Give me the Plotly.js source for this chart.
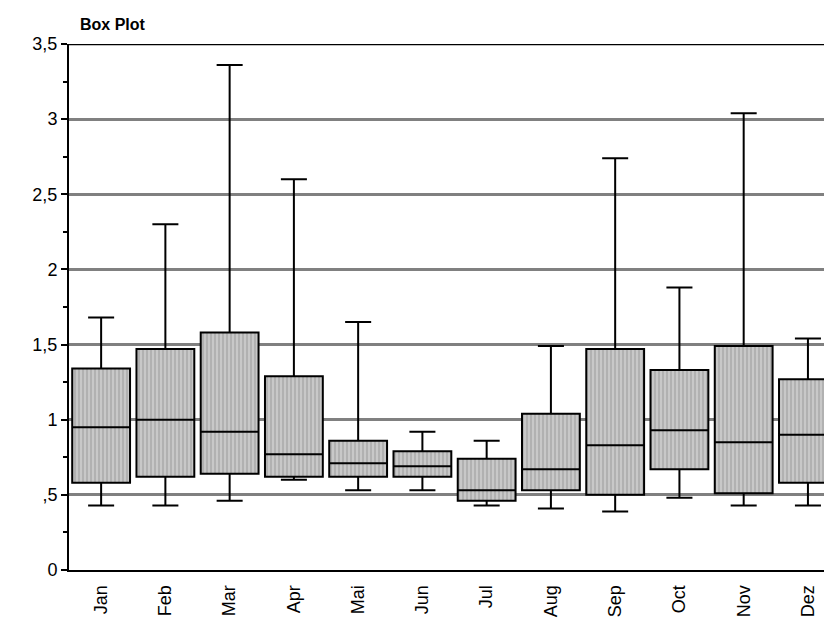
<!DOCTYPE html>
<html>
<head>
<meta charset="utf-8">
<script src="https://cdn.plot.ly/plotly-3.0.1.min.js"></script>
<style>body{margin:0;background:#fff}</style>
</head>
<body>
<div id="chart" style="width:824px;height:635px"></div>
<script>
const months = ['Jan','Feb','Mar','Apr','Mai','Jun','Jul','Aug','Sep','Oct','Nov','Dez'];
const upper  = [1.68, 2.30, 3.36, 2.60, 1.65, 0.92, 0.86, 1.49, 2.74, 1.88, 3.04, 1.54];
const q3     = [1.34, 1.47, 1.58, 1.29, 0.86, 0.79, 0.74, 1.04, 1.47, 1.33, 1.49, 1.27];
const median = [0.95, 1.00, 0.92, 0.77, 0.71, 0.69, 0.53, 0.67, 0.83, 0.93, 0.85, 0.90];
const q1     = [0.58, 0.62, 0.64, 0.62, 0.62, 0.62, 0.46, 0.53, 0.50, 0.67, 0.51, 0.58];
const lower  = [0.43, 0.43, 0.46, 0.60, 0.53, 0.53, 0.43, 0.41, 0.39, 0.48, 0.43, 0.43];

const yTicks = [0, 0.5, 1, 1.5, 2, 2.5, 3, 3.5];
const yLabels = ['0', ',5', '1', '1,5', '2', '2,5', '3', '3,5'];

// hatched fill behind each box
const hatch = {
  type: 'bar', x: months, y: q3.map((v, i) => v - q1[i]), base: q1,
  width: 0.9, hoverinfo: 'skip',
  marker: { color: '#c8c8c8', line: { width: 0 },
    pattern: { shape: '|', fgcolor: '#9a9a9a', bgcolor: '#c8c8c8', size: 4, solidity: 0.25 } }
};

const box = {
  type: 'box', x: months, q1: q1, median: median, q3: q3,
  lowerfence: lower, upperfence: upper, width: 0.9,
  fillcolor: 'rgba(0,0,0,0)', whiskerwidth: 0.45,
  line: { color: '#000', width: 2 }
};

Plotly.newPlot('chart', [hatch, box], {
  width: 824, height: 635,
  margin: { l: 69, r: 0, t: 44, b: 65 },
  showlegend: false,
  barmode: 'overlay', boxmode: 'overlay',
  font: { family: 'Liberation Sans, Arial, sans-serif', color: '#000', size: 18 },
  title: { text: '<b>Box Plot</b>', x: 80 / 824, xanchor: 'left', y: 1 - 24 / 635, yanchor: 'middle',
    font: { size: 16 } },
  xaxis: {
    type: 'category', range: [-0.5, 11.25], tickangle: -90,
    showline: true, linecolor: '#000', linewidth: 2, ticks: 'outside', ticklen: 6, tickcolor: 'rgba(0,0,0,0)',
    showgrid: false, tickfont: { size: 18 }
  },
  yaxis: {
    range: [0, 3.5], tickvals: yTicks, ticktext: yLabels,
    showline: true, linecolor: '#000', linewidth: 2, mirror: false,
    ticks: 'outside', ticklen: 6, tickwidth: 2, tickcolor: '#000',
    minor: { dtick: 0.25, ticks: 'outside', ticklen: 4, tickcolor: '#000', showgrid: false },
    showgrid: true, gridcolor: '#808080', gridwidth: 2.5, zeroline: false,
    tickfont: { size: 18 }
  },
  shapes: [{ type: 'line', xref: 'paper', yref: 'y', x0: 0, x1: 1, y0: 3.5, y1: 3.5,
    line: { color: '#000', width: 2.5 } }]
}, { displayModeBar: false });
</script>
</body>
</html>
